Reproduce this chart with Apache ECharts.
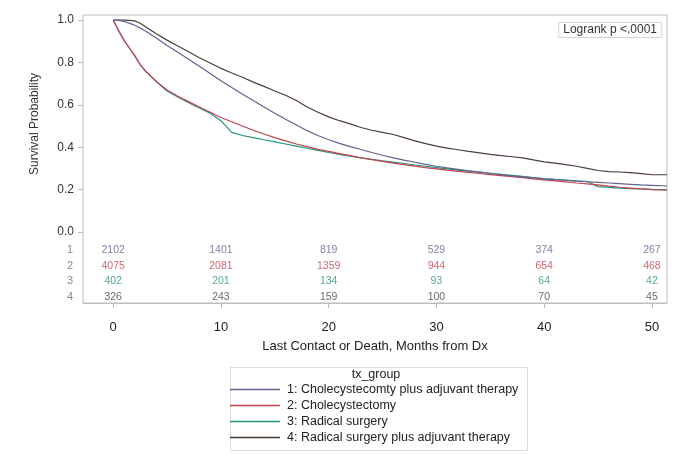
<!DOCTYPE html>
<html>
<head>
<meta charset="utf-8">
<script src="https://cdn.jsdelivr.net/npm/echarts@6/dist/echarts.min.js"></script>
<style>
  html, body { margin: 0; padding: 0; background: #fff; }
  #chart { width: 679px; height: 454px; }
</style>
</head>
<body>
<div id="chart"></div>
<script>
// Kaplan-Meier survival estimates by treatment group (months from diagnosis)
const months = [0, 0.5, 1, 1.5, 2, 2.5, 3,
  4, 5, 6, 7, 8, 9, 10, 11, 12, 13, 14, 15, 16, 17, 18, 19, 20,
  21, 22, 23, 24, 25, 26, 27, 28, 29, 30, 31, 32, 33, 34, 35, 36,
  37, 38, 39, 40, 41, 42, 43, 44, 45, 46, 47, 48, 49, 50, 51, 51.4];

const survGroup1 = [1, 0.998, 0.993, 0.985, 0.975, 0.962, 0.948,
  0.915, 0.88, 0.848, 0.815, 0.782, 0.748, 0.713, 0.682, 0.65, 0.62, 0.59, 0.56, 0.532, 0.505, 0.478, 0.455, 0.435,
  0.418, 0.403, 0.389, 0.375, 0.362, 0.35, 0.339, 0.329, 0.319, 0.31, 0.302, 0.295, 0.288, 0.282, 0.276, 0.27,
  0.265, 0.26, 0.255, 0.25, 0.247, 0.244, 0.24, 0.237, 0.234, 0.231, 0.228, 0.225, 0.222, 0.22, 0.218, 0.217];

const survGroup2 = [1, 0.95, 0.905, 0.868, 0.832, 0.79, 0.76,
  0.71, 0.67, 0.64, 0.615, 0.59, 0.565, 0.54, 0.52, 0.50, 0.48, 0.462, 0.445, 0.43, 0.415, 0.403, 0.39, 0.38,
  0.37, 0.36, 0.35, 0.341, 0.333, 0.325, 0.318, 0.311, 0.304, 0.298, 0.292, 0.286, 0.281, 0.276, 0.271, 0.266,
  0.261, 0.256, 0.251, 0.246, 0.241, 0.236, 0.231, 0.227, 0.222, 0.216, 0.211, 0.207, 0.203, 0.2, 0.198, 0.198];

const survGroup3 = [1, 0.95, 0.905, 0.868, 0.832, 0.79, 0.758,
  0.71, 0.665, 0.637, 0.61, 0.585, 0.56, 0.525, 0.47, 0.455, 0.445, 0.435, 0.425, 0.415, 0.405, 0.395, 0.385, 0.375,
  0.366, 0.358, 0.35, 0.343, 0.336, 0.33, 0.323, 0.316, 0.31, 0.304, 0.298, 0.292, 0.287, 0.282, 0.277, 0.272,
  0.267, 0.262, 0.257, 0.252, 0.248, 0.245, 0.241, 0.238, 0.214, 0.21, 0.207, 0.205, 0.203, 0.201, 0.2, 0.2];

const survGroup4 = [1, 1, 0.999, 0.998, 0.996, 0.985, 0.968,
  0.935, 0.905, 0.877, 0.85, 0.822, 0.797, 0.772, 0.75, 0.73, 0.707, 0.687, 0.665, 0.645, 0.62, 0.59, 0.565, 0.543,
  0.525, 0.51, 0.493, 0.48, 0.47, 0.46, 0.445, 0.43, 0.417, 0.405, 0.396, 0.388, 0.38, 0.373, 0.366, 0.36,
  0.355, 0.35, 0.34, 0.331, 0.325, 0.318, 0.31, 0.30, 0.29, 0.285, 0.283, 0.28, 0.275, 0.27, 0.27, 0.27];

const groupNames = [
  '1: Cholecystecomty plus adjuvant therapy',
  '2: Cholecystectomy',
  '3: Radical surgery',
  '4: Radical surgery plus adjuvant therapy'
];
const groupRowLabels = ['1', '2', '3', '4'];

// Number at risk
const riskTimes = [0, 10, 20, 30, 40, 50];
const atRisk1 = [2102, 1401, 819, 529, 374, 267];
const atRisk2 = [4075, 2081, 1359, 944, 654, 468];
const atRisk3 = [402, 201, 134, 93, 64, 42];
const atRisk4 = [326, 243, 159, 100, 70, 45];

const xTicks = [0, 10, 20, 30, 40, 50];
const yTicks = [0, 0.2, 0.4, 0.6, 0.8, 1.0];

const colors = ['#5f6390', '#c2424e', '#26937f', '#4d3d35'];
const survAll = [survGroup1, survGroup2, survGroup3, survGroup4];
const riskAll = [atRisk1, atRisk2, atRisk3, atRisk4];

const X_MIN = -2.8, X_MAX = 51.4;
const FONT = 'Liberation Sans, Arial, sans-serif';

const chart = echarts.init(document.getElementById('chart'), null, { renderer: 'canvas' });

const curveSeries = survAll.map((s, i) => ({
  name: groupNames[i],
  type: 'line',
  xAxisIndex: 0,
  yAxisIndex: 0,
  showSymbol: false,
  symbol: 'none',
  silent: true,
  z: 10 - i,
  lineStyle: { color: colors[i], width: 1.2 },
  itemStyle: { color: colors[i] },
  data: months.map((m, k) => [m, s[k]])
}));

const riskSeries = riskAll.map((r, i) => ({
  type: 'scatter',
  xAxisIndex: 1,
  yAxisIndex: 1,
  symbolSize: 0,
  silent: true,
  label: {
    show: true,
    position: 'inside',
    color: colors[i],
    fontSize: 10.5,
    fontFamily: FONT,
    formatter: p => String(p.value[2])
  },
  data: riskTimes.map((t, k) => [t, groupRowLabels[i], r[k]])
}));

chart.setOption({
  animation: false,
  backgroundColor: '#ffffff',
  textStyle: { fontFamily: FONT },
  title: {
    text: 'Logrank p <.0001',
    right: 17,
    top: 22,
    padding: [2, 5, 2, 5],
    borderColor: '#d4d4d4',
    borderWidth: 1,
    textStyle: { fontSize: 12, fontWeight: 'normal', color: '#333' }
  },
  grid: [
    { left: 83, right: 12, top: 15, bottom: 151, show: true, borderColor: '#bdbdbd', borderWidth: 1, backgroundColor: 'transparent' },
    { left: 83, right: 12, top: 242, bottom: 149 }
  ],
  xAxis: [
    {
      gridIndex: 0, type: 'value', min: X_MIN, max: X_MAX,
      name: 'Last Contact or Death, Months from Dx',
      nameLocation: 'middle', nameGap: 37,
      nameTextStyle: { fontSize: 13, color: '#222' },
      axisLine: { show: true, onZero: false, lineStyle: { color: '#bdbdbd' } },
      axisTick: { show: true, length: 5, customValues: xTicks, lineStyle: { color: '#bdbdbd' } },
      axisLabel: { customValues: xTicks, margin: 18, fontSize: 13, color: '#222' },
      splitLine: { show: false }
    },
    {
      gridIndex: 1, type: 'value', min: X_MIN, max: X_MAX, show: false
    }
  ],
  yAxis: [
    {
      gridIndex: 0, type: 'value', min: -0.335, max: 1.0236,
      axisLine: { show: false, onZero: false },
      axisTick: { show: true, length: 5, customValues: yTicks, lineStyle: { color: '#bdbdbd' } },
      axisLabel: { customValues: yTicks, margin: 9, fontSize: 12, color: '#333', formatter: v => v.toFixed(1) },
      splitLine: { show: false }
    },
    {
      gridIndex: 1, type: 'category', inverse: true,
      data: groupRowLabels.map(v => ({ value: v, textStyle: { color: '#8a8a8a' } })),
      axisLine: { show: false, onZero: false }, axisTick: { show: false },
      axisLabel: { margin: 10, fontSize: 11 },
      splitLine: { show: false }
    }
  ],
  legend: {
    orient: 'vertical',
    left: 230,
    top: 383,
    itemWidth: 50,
    itemHeight: 1.5,
    itemGap: 3,
    icon: 'rect',
    padding: 0,
    textStyle: { fontSize: 12.5, color: '#222', padding: [0, 0, 0, 2] },
    data: groupNames
  },
  graphic: [
    {
      type: 'rect', left: 228, top: 365, silent: true,
      shape: { width: 297, height: 83 },
      style: { fill: 'none', stroke: '#dddddd', lineWidth: 1 }
    },
    {
      type: 'text', x: 376, y: 375, silent: true,
      style: { text: 'tx_group', fontSize: 12.5, fill: '#222', fontFamily: FONT, align: 'center', verticalAlign: 'middle' }
    },
    {
      type: 'text', x: 35, y: 124, rotation: Math.PI / 2, silent: true,
      style: { text: 'Survival Probability', fontSize: 12, fill: '#333', fontFamily: FONT, align: 'center', verticalAlign: 'middle' }
    }
  ],
  series: curveSeries.concat(riskSeries)
});
</script>
</body>
</html>
